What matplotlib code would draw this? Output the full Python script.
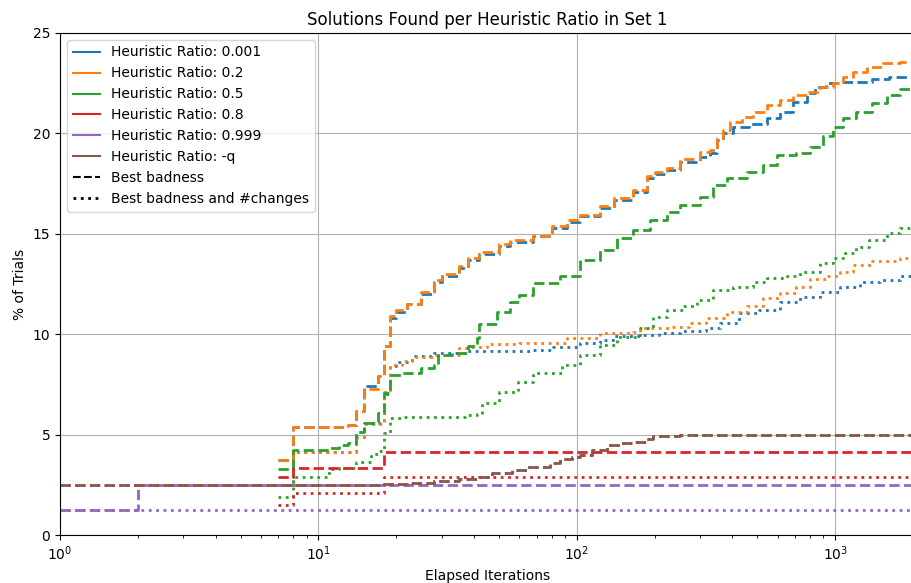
import matplotlib.pyplot as plt
from matplotlib.lines import Line2D

# Kết quả theo từng tỉ lệ heuristic (x: số vòng lặp, y: % số lần thử tìm được lời giải)
ratios = ['0.001', '0.2', '0.5', '0.8', '0.999', '-q']
colors = ['C0', 'C1', 'C2', 'C3', 'C4', 'C5']

# Best badness
x_0001_bad = [7, 8, 13, 14, 15, 17, 18, 19, 20, 22, 25, 28, 30, 35, 38, 42, 50, 55, 68, 80, 92, 103,
              123, 140, 165, 187, 200, 223, 250, 299, 327, 349, 367, 404, 466, 543, 610, 685, 776,
              839, 918, 1040, 1203, 1392, 1622, 1977]
y_0001_bad = [3.75, 5.4, 5.5, 6.2, 7.4, 7.9, 9.4, 10.8, 11.1, 11.5, 12.0, 12.6, 12.9, 13.3, 13.7, 14.0,
              14.4, 14.6, 14.9, 15.3, 15.6, 15.9, 16.3, 16.7, 17.1, 17.8, 18.0, 18.2, 18.6, 18.84,
              19.0, 19.67, 20.0, 20.33, 20.47, 20.75, 21.08, 21.58, 22.0, 22.33, 22.49, 22.54, 22.58,
              22.69, 22.83, 22.99]

x_02_bad = [7, 8, 13, 14, 15, 17, 18, 19, 20, 22, 25, 28, 30, 35, 38, 42, 50, 55, 68, 80, 92, 103,
            123, 140, 165, 187, 200, 223, 250, 299, 327, 349, 367, 391, 438, 480, 543, 610, 685,
            776, 871, 978, 1073, 1169, 1324, 1529, 1777, 1977]
y_02_bad = [3.75, 5.4, 5.5, 6.2, 7.25, 7.9, 9.4, 10.9, 11.2, 11.5, 12.1, 12.7, 13.0, 13.4, 13.8, 14.1,
            14.5, 14.7, 14.9, 15.4, 15.7, 15.95, 16.4, 16.8, 17.2, 17.9, 18.1, 18.3, 18.75, 19.09,
            19.17, 19.77, 20.17, 20.58, 20.83, 21.08, 21.41, 21.66, 21.91, 22.08, 22.33, 22.49,
            22.83, 23.07, 23.32, 23.49, 23.57, 23.69]

x_05_bad = [7, 8, 11, 12, 13, 14, 15, 17, 18, 19, 21, 25, 28, 29, 33, 38, 41, 42, 49, 55, 60, 68, 86,
            103, 123, 143, 165, 192, 223, 250, 299, 336, 381, 455, 525, 594, 707, 796, 895, 978,
            1073, 1203, 1392, 1590, 1777, 1977]
y_05_bad = [3.3, 4.23, 4.35, 4.5, 4.6, 5.14, 5.57, 6.06, 7.07, 7.97, 8.08, 8.33, 8.47, 8.96, 9.06, 9.4,
            9.8, 10.5, 11.12, 11.62, 11.95, 12.54, 12.9, 13.7, 14.19, 14.78, 15.19, 15.69, 16.1, 16.43,
            16.85, 17.43, 17.76, 18.09, 18.43, 18.92, 19.04, 19.34, 19.87, 20.33, 20.75, 21.08, 21.5,
            21.91, 22.2, 22.58]

x_08_bad = [7, 8, 18, 1977]
y_08_bad = [2.9, 3.33, 4.15, 4.15]

x_0999_bad = [1, 2, 1977]
y_0999_bad = [1.25, 2.5, 2.5]

x_q_bad = [1, 18, 22, 28, 35, 42, 47, 56, 64, 79, 86, 96, 103, 115, 131, 147, 165, 187, 197, 250, 610, 1977]
y_q_bad = [2.5, 2.55, 2.6, 2.7, 2.8, 2.89, 3.09, 3.24, 3.4, 3.57, 3.77, 3.9, 3.98, 4.23, 4.48, 4.6, 4.65,
           4.77, 4.93, 4.98, 5.0, 5.0]

# Best badness and #changes
x_0001_chg = [7, 8, 14, 15, 18, 19, 20, 23, 28, 37, 68, 81, 103, 123, 138, 175, 209, 250, 317, 357,
              425, 509, 610, 729, 871, 1040, 1250, 1486, 1777, 1977]
y_0001_chg = [2.5, 4.15, 4.9, 5.6, 7.0, 8.4, 8.63, 8.9, 9.06, 9.16, 9.21, 9.38, 9.58, 9.71, 9.9, 9.96,
              10.08, 10.17, 10.29, 10.54, 11.04, 11.2, 11.62, 11.87, 12.12, 12.33, 12.62, 12.7, 12.9,
              13.2]

x_02_chg = [7, 8, 14, 15, 18, 19, 21, 23, 28, 35, 38, 45, 60, 68, 92, 123, 165, 175, 234, 271, 317,
            381, 455, 525, 610, 707, 796, 918, 1040, 1169, 1392, 1777, 1977]
y_02_chg = [2.5, 4.15, 4.9, 5.55, 7.1, 8.45, 8.65, 8.88, 8.96, 9.3, 9.38, 9.5, 9.55, 9.58, 9.8, 10.05,
            10.13, 10.29, 10.37, 10.57, 10.79, 11.12, 11.4, 11.79, 12.03, 12.33, 12.73, 12.9, 13.11,
            13.45, 13.65, 13.78, 14.28]

x_05_chg = [7, 8, 11, 12, 14, 16, 17, 18, 19, 21, 37, 41, 43, 50, 59, 68, 88, 103, 123, 143, 175, 197,
            223, 257, 291, 336, 404, 480, 543, 649, 729, 871, 978, 1073, 1203, 1347, 1590, 1777, 1977]
y_05_chg = [1.9, 2.9, 3.29, 3.33, 3.65, 4.03, 4.2, 5.07, 5.81, 5.9, 6.0, 6.05, 6.55, 7.14, 7.64, 8.06,
            8.47, 8.96, 9.46, 9.88, 10.3, 10.87, 11.2, 11.4, 11.7, 12.2, 12.33, 12.62, 12.78, 12.9,
            13.11, 13.53, 13.78, 14.03, 14.36, 14.69, 15.03, 15.27, 15.52]

x_08_chg = [7, 8, 18, 1977]
y_08_chg = [1.5, 2.08, 2.9, 2.9]

x_0999_chg = [1, 1977]
y_0999_chg = [1.25, 1.25]

x_q_chg = x_q_bad
y_q_chg = y_q_bad

bad = [(x_0001_bad, y_0001_bad), (x_02_bad, y_02_bad), (x_05_bad, y_05_bad),
       (x_08_bad, y_08_bad), (x_0999_bad, y_0999_bad), (x_q_bad, y_q_bad)]
chg = [(x_0001_chg, y_0001_chg), (x_02_chg, y_02_chg), (x_05_chg, y_05_chg),
       (x_08_chg, y_08_chg), (x_0999_chg, y_0999_chg), (x_q_chg, y_q_chg)]

fig = plt.figure(figsize=(9.12, 5.83), dpi=100)
ax = fig.add_axes([0.0658, 0.0823, 0.937, 0.8611])

for (xb, yb), (xc, yc), c in zip(bad, chg, colors):
    ax.plot(xb, yb, color=c, linestyle='--', linewidth=2, drawstyle='steps-post')
    ax.plot(xc, yc, color=c, linestyle=':', linewidth=2, drawstyle='steps-post')

ax.set_xscale('log')
ax.set_xlim(1, 2030)
ax.set_ylim(0, 25)
ax.grid(True)

ax.set_title('Solutions Found per Heuristic Ratio in Set 1')
ax.set_xlabel('Elapsed Iterations')
ax.set_ylabel('% of Trials')

# Chú thích: màu cho tỉ lệ, kiểu nét cho tiêu chí
handles = [Line2D([0], [0], color=c, linewidth=1.5) for c in colors]
labels = ['Heuristic Ratio: ' + r for r in ratios]
handles += [Line2D([0], [0], color='black', linestyle='--', linewidth=1.5),
            Line2D([0], [0], color='black', linestyle=':', linewidth=2)]
labels += ['Best badness', 'Best badness and #changes']
ax.legend(handles, labels, loc='upper left')

fig.savefig('out.png', dpi=100)
